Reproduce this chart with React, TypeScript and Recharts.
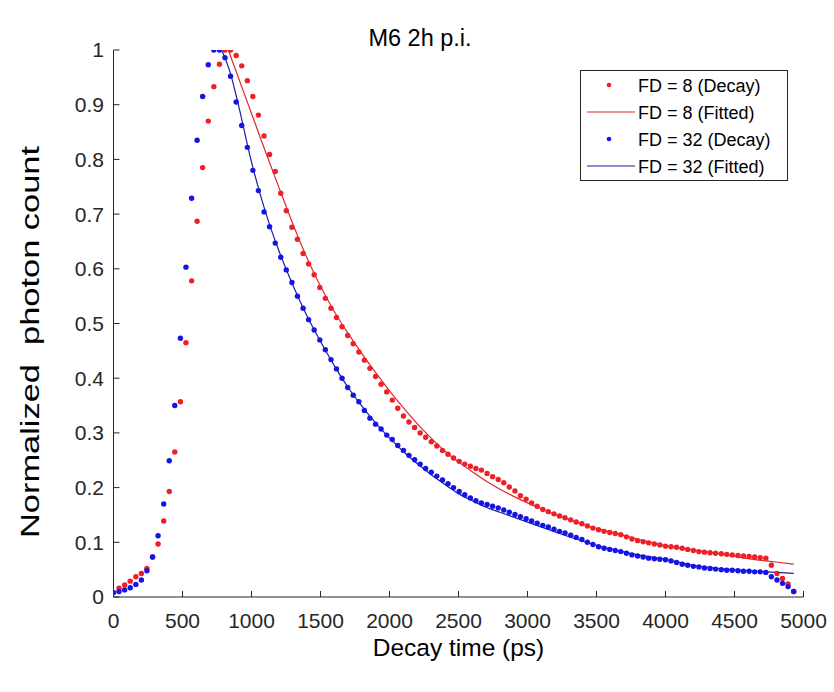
import React from 'react';
import { ComposedChart, XAxis, YAxis, Scatter, Line, Legend } from 'recharts';

const FONT = '"Liberation Sans", Arial, Helvetica, sans-serif';

// Decay time bins (ps)
const times = [
  0, 40, 81, 121, 162, 202, 242, 283, 323, 364,
  404, 444, 485, 525, 566, 606, 646, 687, 727, 768,
  808, 848, 889, 929, 970, 1010, 1050, 1091, 1131, 1172,
  1212, 1252, 1293, 1333, 1374, 1414, 1454, 1495, 1535, 1576,
  1616, 1656, 1697, 1737, 1778, 1818, 1858, 1899, 1939, 1980,
  2020, 2060, 2101, 2141, 2182, 2222, 2262, 2303, 2343, 2384,
  2424, 2464, 2505, 2545, 2586, 2626, 2666, 2707, 2747, 2788,
  2828, 2868, 2909, 2949, 2990, 3030, 3070, 3111, 3151, 3192,
  3232, 3272, 3313, 3353, 3394, 3434, 3474, 3515, 3555, 3596,
  3636, 3676, 3717, 3757, 3798, 3838, 3878, 3919, 3959, 4000,
  4040, 4080, 4121, 4161, 4202, 4242, 4282, 4323, 4363, 4404,
  4444, 4484, 4525, 4565, 4606, 4646, 4686, 4727, 4767, 4808,
  4848, 4888, 4929,
];

// FD = 8 decay (normalized photon count)
const decayFD8 = [
  0.008, 0.016, 0.022, 0.029, 0.037, 0.043, 0.052, 0.073, 0.097, 0.139,
  0.193, 0.265, 0.357, 0.465, 0.578, 0.687, 0.785, 0.870, 0.933, 0.974,
  1.000, 1.000, 0.990, 0.971, 0.944, 0.915, 0.881, 0.843, 0.809, 0.778,
  0.738, 0.706, 0.676, 0.654, 0.628, 0.609, 0.589, 0.566, 0.546, 0.528,
  0.511, 0.494, 0.478, 0.463, 0.448, 0.433, 0.418, 0.403, 0.389, 0.375,
  0.360, 0.345, 0.331, 0.320, 0.310, 0.300, 0.292, 0.284, 0.276, 0.268,
  0.261, 0.254, 0.248, 0.243, 0.239, 0.235, 0.232, 0.226, 0.220, 0.215,
  0.209, 0.201, 0.194, 0.185, 0.179, 0.172, 0.166, 0.160, 0.156, 0.152,
  0.148, 0.145, 0.141, 0.137, 0.134, 0.130, 0.126, 0.123, 0.120, 0.118,
  0.116, 0.114, 0.110, 0.106, 0.103, 0.101, 0.099, 0.097, 0.095, 0.093,
  0.092, 0.091, 0.089, 0.087, 0.085, 0.083, 0.082, 0.081, 0.080, 0.079,
  0.078, 0.077, 0.076, 0.075, 0.074, 0.073, 0.072, 0.071, 0.058, 0.043,
  0.034, 0.024, 0.010,
];

// FD = 32 decay (normalized photon count)
const decayFD32 = [
  0.008, 0.010, 0.013, 0.017, 0.023, 0.031, 0.048, 0.073, 0.112, 0.170,
  0.249, 0.350, 0.473, 0.603, 0.729, 0.835, 0.915, 0.973, 1.000, 1.000,
  0.986, 0.952, 0.905, 0.862, 0.822, 0.780, 0.743, 0.704, 0.677, 0.647,
  0.621, 0.598, 0.575, 0.550, 0.528, 0.507, 0.488, 0.470, 0.452, 0.434,
  0.417, 0.400, 0.383, 0.369, 0.357, 0.341, 0.327, 0.316, 0.307, 0.296,
  0.288, 0.277, 0.268, 0.259, 0.251, 0.243, 0.235, 0.228, 0.221, 0.214,
  0.207, 0.200, 0.193, 0.187, 0.181, 0.176, 0.172, 0.169, 0.166, 0.163,
  0.159, 0.155, 0.151, 0.147, 0.143, 0.139, 0.135, 0.131, 0.128, 0.124,
  0.120, 0.117, 0.113, 0.109, 0.105, 0.100, 0.096, 0.092, 0.089, 0.087,
  0.085, 0.083, 0.080, 0.077, 0.075, 0.073, 0.071, 0.070, 0.069, 0.068,
  0.066, 0.063, 0.060, 0.058, 0.056, 0.055, 0.053, 0.052, 0.051, 0.050,
  0.049, 0.049, 0.048, 0.047, 0.047, 0.046, 0.046, 0.045, 0.037, 0.031,
  0.025, 0.019, 0.010,
];

// Fitted curves
const fitTimesFD8 = [
  832, 900, 1000, 1100, 1200, 1300, 1400, 1500, 1600, 1700,
  1800, 1900, 2000, 2100, 2200, 2300, 2400, 2500, 2600, 2700,
  2800, 2900, 3000, 3200, 3400, 3600, 3800, 4000, 4200, 4400,
  4600, 4800, 4929,
];
const fitFD8 = [
  1.000, 0.953, 0.884, 0.815, 0.748, 0.682, 0.621, 0.568, 0.522, 0.482,
  0.445, 0.410, 0.377, 0.346, 0.317, 0.291, 0.267, 0.247, 0.229, 0.212,
  0.197, 0.184, 0.172, 0.151, 0.133, 0.119, 0.106, 0.094, 0.086, 0.079,
  0.070, 0.064, 0.060,
];
const fitTimesFD32 = [
  784, 850, 900, 1000, 1100, 1200, 1300, 1400, 1500, 1600,
  1700, 1800, 1900, 2000, 2100, 2200, 2300, 2400, 2500, 2600,
  2700, 2800, 2900, 3000, 3200, 3400, 3600, 3800, 4000, 4200,
  4400, 4600, 4800, 4929,
];
const fitFD32 = [
  1.000, 0.955, 0.905, 0.795, 0.705, 0.632, 0.570, 0.515, 0.467, 0.423,
  0.383, 0.349, 0.318, 0.291, 0.266, 0.244, 0.224, 0.206, 0.189, 0.176,
  0.164, 0.155, 0.146, 0.137, 0.119, 0.102, 0.088, 0.077, 0.069, 0.058,
  0.052, 0.048, 0.045, 0.043,
];

const xTicks = [0, 500, 1000, 1500, 2000, 2500, 3000, 3500, 4000, 4500, 5000];
const yTicks = [0, 0.1, 0.2, 0.3, 0.4, 0.5, 0.6, 0.7, 0.8, 0.9, 1];

const titleText = 'M6 2h p.i.';
const xLabelText = 'Decay time (ps)';
const yLabelText = 'Normalized  photon count';
const seriesNames = ['FD = 8 (Decay)', 'FD = 8 (Fitted)', 'FD = 32 (Decay)', 'FD = 32 (Fitted)'];

const RED_DOT = '#ee1f26';
const RED_LINE = '#e3262b';
const BLUE_DOT = '#1414e6';
const BLUE_LINE = '#1c1ca8';
const AXIS = '#262626';

const rowsDecay8 = times.map((t, i) => ({ t, v: decayFD8[i] }));
const rowsDecay32 = times.map((t, i) => ({ t, v: decayFD32[i] }));
const rowsFit8 = fitTimesFD8.map((t, i) => ({ t, v: fitFD8[i] }));
const rowsFit32 = fitTimesFD32.map((t, i) => ({ t, v: fitFD32[i] }));

const makeDot = (color: string) => (p: any) => (
  <circle cx={p.cx} cy={p.cy} r={2.7} fill={color} />
);

const legendItems = [
  { name: seriesNames[0], color: RED_DOT, kind: 'dot' },
  { name: seriesNames[1], color: RED_LINE, kind: 'line' },
  { name: seriesNames[2], color: BLUE_DOT, kind: 'dot' },
  { name: seriesNames[3], color: BLUE_LINE, kind: 'line' },
];

const LegendBox = () => (
  <svg width={208} height={111} style={{ display: 'block' }}>
    <rect x={0.5} y={0.5} width={207} height={110} fill="#fff" stroke={AXIS} strokeWidth={1} />
    {legendItems.map((it, k) => {
      const cy = 15 + k * 27;
      return (
        <g key={k}>
          {it.kind === 'dot' ? (
            <circle cx={29} cy={cy} r={2.3} fill={it.color} />
          ) : (
            <line x1={7} x2={55} y1={cy} y2={cy} stroke={it.color} strokeWidth={1.2} />
          )}
          <text x={58} y={cy + 6.5} fontFamily={FONT} fontSize={18} fill="#000">
            {it.name}
          </text>
        </g>
      );
    })}
  </svg>
);

const XLabel = (props: any) => {
  const vb = props.viewBox || {};
  return (
    <text x={vb.x + vb.width / 2} y={656} textAnchor="middle" fontFamily={FONT} fontSize={24.5} fill="#000">
      {xLabelText}
    </text>
  );
};

const YLabel = () => {
  const cx = 39;
  const cy = 342;
  return (
    <text
      x={cx}
      y={cy}
      transform={`rotate(-90, ${cx}, ${cy})`}
      textAnchor="middle"
      fontFamily={FONT}
      fontSize={25.5}
      textLength={392}
      lengthAdjust="spacingAndGlyphs"
      fill="#000"
      style={{ whiteSpace: 'pre' }}
    >
      {yLabelText}
    </text>
  );
};

export default function App() {
  return (
    <div style={{ position: 'absolute', left: 0, top: 0, width: 834, height: 692, background: '#fff' }}>
      <ComposedChart
        width={834}
        height={692}
        margin={{ top: 50, right: 30.5, bottom: 65, left: 53.5 }}
      >
        <XAxis
          type="number"
          dataKey="t"
          domain={[0, 5000]}
          ticks={xTicks}
          interval={0}
          allowDataOverflow
          height={30}
          stroke={AXIS}
          axisLine={{ stroke: AXIS, strokeWidth: 1 }}
          tickLine={{ stroke: AXIS, strokeWidth: 1 }}
          tickSize={-6}
          tickMargin={22}
          tick={{ fontSize: 21, fill: AXIS, fontFamily: FONT }}
          label={<XLabel />}
        />
        <YAxis
          type="number"
          domain={[0, 1]}
          ticks={yTicks}
          interval={0}
          allowDataOverflow
          width={60}
          stroke={AXIS}
          axisLine={{ stroke: AXIS, strokeWidth: 1 }}
          tickLine={{ stroke: AXIS, strokeWidth: 1 }}
          tickSize={-6}
          tickMargin={15.5}
          tick={{ fontSize: 21, fill: AXIS, fontFamily: FONT }}
          tickFormatter={(v: number) => String(v)}
          label={<YLabel />}
        />
        <Scatter name={seriesNames[0]} data={rowsDecay8} dataKey="v" fill={RED_DOT} shape={makeDot(RED_DOT)} isAnimationActive={false} />
        <Line name={seriesNames[1]} data={rowsFit8} dataKey="v" type="monotone" stroke={RED_LINE} strokeWidth={1.2} dot={false} activeDot={false} isAnimationActive={false} />
        <Scatter name={seriesNames[2]} data={rowsDecay32} dataKey="v" fill={BLUE_DOT} shape={makeDot(BLUE_DOT)} isAnimationActive={false} />
        <Line name={seriesNames[3]} data={rowsFit32} dataKey="v" type="monotone" stroke={BLUE_LINE} strokeWidth={1.2} dot={false} activeDot={false} isAnimationActive={false} />
        <Legend
          layout="vertical"
          align="center"
          verticalAlign="middle"
          wrapperStyle={{ position: 'absolute', left: 580, top: 70, width: 208, height: 111 }}
          content={() => <LegendBox />}
        />
      </ComposedChart>
      <svg width={834} height={60} style={{ position: 'absolute', left: 0, top: 0, pointerEvents: 'none' }}>
        <text x={420} y={46} textAnchor="middle" fontFamily={FONT} fontSize={23.5} fill="#000">
          {titleText}
        </text>
      </svg>
    </div>
  );
}
